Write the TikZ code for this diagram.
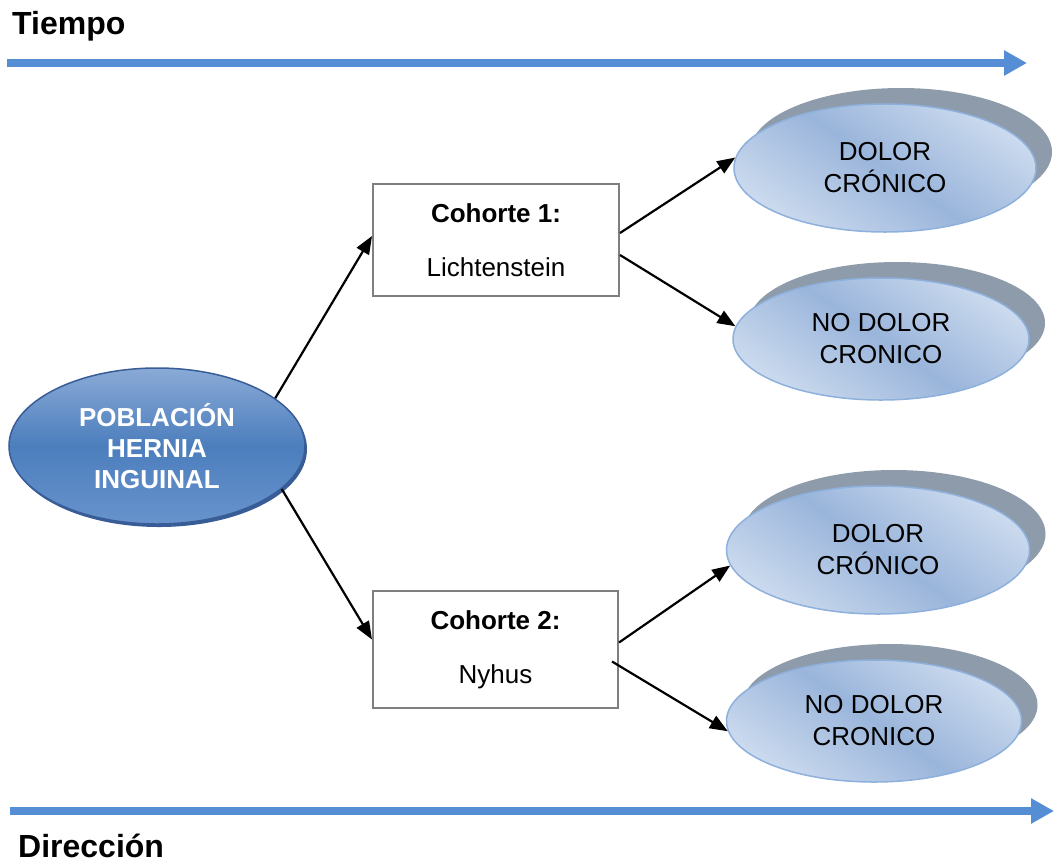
\documentclass[tikz,border=0pt]{standalone}
\usepackage{fontspec}
\setmainfont{Liberation Sans}
\usetikzlibrary{arrows.meta,shapes.geometric,shadows}
\definecolor{timeblue}{RGB}{85,142,213}
\definecolor{shadowgray}{RGB}{142,155,171}
\definecolor{ellight}{RGB}{203,218,238}
\definecolor{eldark}{RGB}{154,181,219}
\definecolor{eledge}{RGB}{141,176,220}
\definecolor{poptop}{RGB}{138,170,214}
\definecolor{popmid}{RGB}{76,126,189}
\definecolor{popbot}{RGB}{104,147,204}
\definecolor{popedge}{RGB}{56,93,150}
\definecolor{boxgray}{RGB}{127,127,127}
\tikzset{
  timearrow/.style={draw=timeblue, line width=8.5pt, -{Triangle[length=23pt,width=24pt]}},
  titletext/.style={font=\fontsize{32}{36}\selectfont\bfseries, anchor=base west, inner sep=0pt},
  outcome/.style={ellipse, inner sep=0pt, align=center, draw=eledge, line width=1.5pt,
    top color=ellight, bottom color=ellight, middle color=eldark, shading angle=-35,
    font=\fontsize{26}{32}\selectfont,
    general shadow={fill=shadowgray, shadow xshift=16pt, shadow yshift=16pt}},
  popnode/.style={ellipse, inner sep=0pt, align=center, draw=popedge, line width=1.5pt,
    top color=poptop, bottom color=popbot, middle color=popmid, text=white,
    font=\fontsize{26}{31}\selectfont\bfseries,
    general shadow={fill=popedge, shadow xshift=2pt, shadow yshift=-3pt}},
  cohort/.style={rectangle, draw=boxgray, line width=2pt, fill=white, align=center,
    inner sep=0pt, font=\fontsize{26}{54}\selectfont},
  link/.style={draw=black, line width=2.2pt, -{Triangle[length=18pt,width=14pt]}}
}
\begin{document}
\begin{tikzpicture}[x=1pt,y=-1pt]
\useasboundingbox (0,0) rectangle (1054,863);
% time axes
\node[titletext] (tiempo) at (12,34) {Tiempo};
\node[titletext] (direccion) at (18,857) {Dirección};
\coordinate (t0) at (7,63);
\coordinate (t1) at (1027,63);
\coordinate (d0) at (10,811);
\coordinate (d1) at (1054,811);
\draw[timearrow] (t0) -- (t1);
\draw[timearrow] (d0) -- (d1);
% population
\node[popnode, minimum width=296pt, minimum height=156pt] (pop) at (157,446)
  {POBLACIÓN\\HERNIA\\INGUINAL};
% cohorts
\node[cohort, minimum width=246pt, minimum height=112pt] (c1) at (496,240)
  {\textbf{Cohorte 1:}\\Lichtenstein};
\node[cohort, minimum width=245pt, minimum height=117pt] (c2) at (495.5,649.5)
  {\textbf{Cohorte 2:}\\Nyhus};
% outcomes
\node[outcome, minimum width=302pt, minimum height=128pt] (o1) at (885,168)
  {DOLOR\\CRÓNICO};
\node[outcome, minimum width=296pt, minimum height=122pt] (o2) at (881,339)
  {NO DOLOR\\CRONICO};
\node[outcome, minimum width=303pt, minimum height=128pt] (o3) at (878,550)
  {DOLOR\\CRÓNICO};
\node[outcome, minimum width=295pt, minimum height=122pt] (o4) at (874,721)
  {NO DOLOR\\CRONICO};
% connectors
\draw[link] (pop.22) -- ([yshift=4pt]c1.west);
\draw[link] (pop.-19) -- ([yshift=10pt]c2.west);
\draw[link] ([yshift=7pt]c1.east) -- (o1.176);
\draw[link] ([yshift=-15pt]c1.east) -- (o2.175);
\draw[link] ([yshift=7pt]c2.east) -- (o3.186);
\draw[link] ([xshift=-7pt,yshift=-12pt]c2.east) -- (o4.184);
\end{tikzpicture}
\end{document}
